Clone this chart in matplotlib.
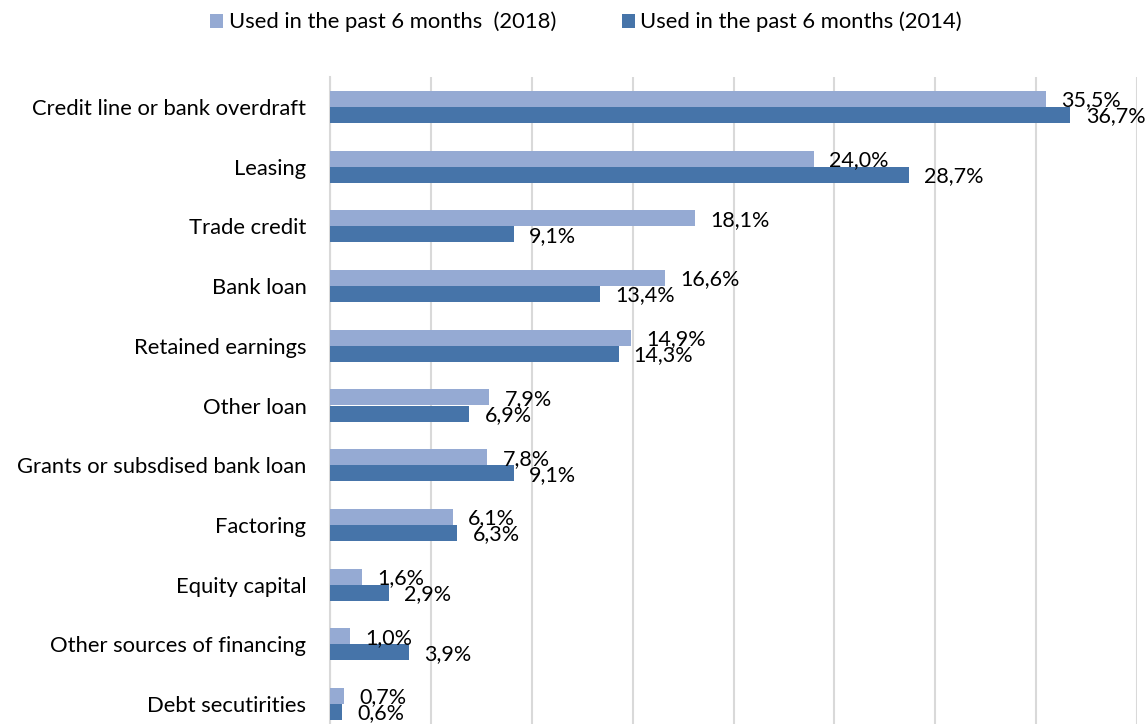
import matplotlib.pyplot as plt
import numpy as np

categories = ['Credit line or bank overdraft', 'Leasing', 'Trade credit', 'Bank loan',
              'Retained earnings', 'Other loan', 'Grants or subsdised bank loan',
              'Factoring', 'Equity capital', 'Other sources of financing',
              'Debt secutirities']
used_2018 = [35.5, 24.0, 18.1, 16.6, 14.9, 7.9, 7.8, 6.1, 1.6, 1.0, 0.7]
used_2014 = [36.7, 28.7, 9.1, 13.4, 14.3, 6.9, 9.1, 6.3, 2.9, 3.9, 0.6]
series_names = ['Used in the past 6 months  (2018)', 'Used in the past 6 months (2014)']

light = '#95AAD3'
dark = '#4674A9'

plt.rcParams['font.family'] = ['Lato', 'DejaVu Sans']

fig = plt.figure(figsize=(11.48, 7.24), dpi=100)
ax = fig.add_axes([330 / 1148, -10 / 724, 807 / 1148, 657 / 724])

y = np.arange(len(categories))
h = 0.268
b1 = ax.barh(y - h / 2, used_2018, height=h, color=light, label=series_names[0], zorder=3)
b2 = ax.barh(y + h / 2, used_2014, height=h, color=dark, label=series_names[1], zorder=3)

# value labels just past the end of each bar (they overlap a bit, as in the original)
for bars, vals in ((b1, used_2018), (b2, used_2014)):
    for bar, v in zip(bars, vals):
        ax.annotate(f'{v:.1f}%'.replace('.', ','),
                    (bar.get_width(), bar.get_y() + bar.get_height() / 2),
                    xytext=(11, -1), textcoords='offset points',
                    ha='left', va='center', fontsize=15.5, color='#000000', zorder=4)

ax.set_xlim(0, 40)
ax.set_ylim(len(categories) - 0.5, -0.5)
ax.set_xticks(np.arange(0, 41, 5))
ax.set_xticklabels([])
ax.tick_params(axis='x', length=0)
ax.tick_params(axis='y', length=0, pad=17, labelsize=15.8)
ax.set_yticks(y)
ax.set_yticklabels(categories)
ax.grid(axis='x', color='#D9D9D9', linewidth=1.5, zorder=0)
for s in ['top', 'right', 'bottom']:
    ax.spines[s].set_visible(False)
ax.spines['left'].set_color('#D9D9D9')
ax.spines['left'].set_linewidth(1.5)

fig.legend(handles=[b1, b2], labels=series_names, loc='center', bbox_to_anchor=(586 / 1148, 1 - 22 / 724),
           ncol=2, frameon=False, fontsize=15.8, handlelength=0.6, handleheight=0.6,
           handletextpad=0.25, columnspacing=3.0)

fig.savefig('out.png', dpi=100)
